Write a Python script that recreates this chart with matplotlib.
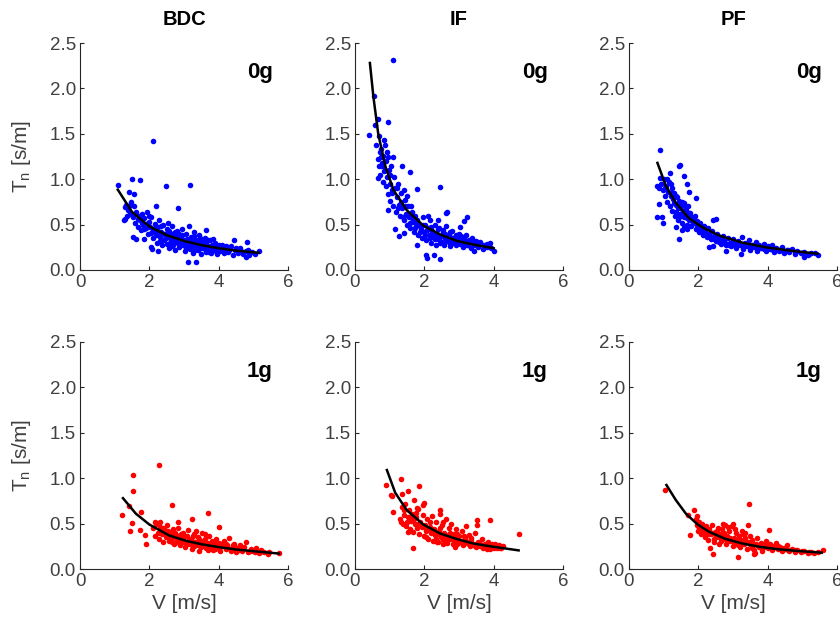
import numpy as np
import matplotlib
matplotlib.use("Agg")
import matplotlib.pyplot as plt

plt.rcParams['font.family'] = ['Liberation Sans', 'DejaVu Sans']
plt.rcParams['mathtext.fontset'] = 'custom'
plt.rcParams['mathtext.rm'] = 'Liberation Sans'
plt.rcParams['mathtext.it'] = 'Liberation Sans'

# ---- data: (V, Tn) pairs ----
bdc_0g = np.array([
    [2.12, 1.42], [1.51, 1.00], [1.74, 0.99], [1.09, 0.94], [2.49, 0.93], [3.17, 0.94],
    [1.40, 0.86], [1.57, 0.84], [2.83, 0.68], [2.20, 0.70], [1.30, 0.69], [1.30, 0.56],
    [1.28, 0.55], [1.53, 0.36], [1.61, 0.34], [1.86, 0.34], [2.06, 0.25], [2.09, 0.23],
    [2.24, 0.21], [3.12, 0.085], [3.35, 0.09], [4.81, 0.31], [4.44, 0.33], [3.64, 0.44],
    [5.15, 0.21], [4.79, 0.14],
    [1.32, 0.72], [1.38, 0.66], [1.45, 0.62], [1.48, 0.75], [1.52, 0.58], [1.55, 0.70],
    [1.60, 0.52], [1.62, 0.64], [1.66, 0.47], [1.70, 0.60], [1.72, 0.55], [1.76, 0.44],
    [1.80, 0.62], [1.83, 0.50], [1.86, 0.57], [1.90, 0.46], [1.93, 0.64], [1.96, 0.40],
    [2.00, 0.53], [2.03, 0.47], [2.06, 0.58], [2.10, 0.35], [2.12, 0.44], [2.15, 0.51],
    [2.18, 0.39], [2.22, 0.30], [2.25, 0.47], [2.28, 0.55], [2.30, 0.36], [2.34, 0.42],
    [2.37, 0.27], [2.40, 0.50], [2.43, 0.33], [2.46, 0.40], [2.50, 0.45], [2.52, 0.29],
    [2.55, 0.36], [2.58, 0.24], [2.60, 0.41], [2.63, 0.32], [2.66, 0.48], [2.68, 0.27],
    [2.72, 0.38], [2.75, 0.22], [2.78, 0.34], [2.80, 0.43], [2.84, 0.30], [2.87, 0.25],
    [2.90, 0.37], [2.93, 0.45], [2.96, 0.28], [3.00, 0.33], [3.02, 0.21], [3.05, 0.40],
    [3.08, 0.26], [3.12, 0.31], [3.15, 0.49], [3.18, 0.23], [3.20, 0.36], [3.24, 0.29],
    [3.27, 0.19], [3.30, 0.42], [3.33, 0.26], [3.36, 0.33], [3.40, 0.22], [3.43, 0.38],
    [3.46, 0.28], [3.50, 0.18], [3.52, 0.31], [3.56, 0.24], [3.60, 0.35], [3.63, 0.20],
    [3.67, 0.28], [3.70, 0.25], [3.74, 0.33], [3.78, 0.19], [3.82, 0.27], [3.86, 0.22],
    [3.90, 0.30], [3.95, 0.18], [4.00, 0.25], [4.05, 0.21], [4.10, 0.28], [4.15, 0.19],
    [4.20, 0.23], [4.28, 0.20], [4.35, 0.26], [4.40, 0.17], [4.48, 0.22], [4.55, 0.19],
    [4.62, 0.24], [4.70, 0.18], [4.78, 0.21], [4.88, 0.17], [4.95, 0.20], [5.05, 0.18],
    [2.20, 0.42], [2.45, 0.38], [2.70, 0.35], [2.90, 0.31], [3.10, 0.34], [3.35, 0.29],
    [3.55, 0.27], [2.60, 0.30], [2.85, 0.40], [3.25, 0.25],
    [1.85, 0.45], [1.95, 0.52], [2.05, 0.41], [2.15, 0.46], [2.25, 0.38], [2.35, 0.49],
    [2.42, 0.40], [2.48, 0.35], [2.56, 0.43], [2.62, 0.37], [2.70, 0.30], [2.74, 0.42],
    [2.82, 0.36], [2.88, 0.28], [2.95, 0.39], [3.00, 0.27], [3.06, 0.32], [3.14, 0.28],
    [3.22, 0.33], [3.28, 0.37], [3.32, 0.22], [3.38, 0.27], [3.45, 0.35], [3.48, 0.24],
    [3.58, 0.30], [3.62, 0.23], [3.68, 0.33], [3.72, 0.20], [3.80, 0.24], [3.88, 0.26],
    [3.92, 0.21], [4.02, 0.28], [4.12, 0.23], [4.22, 0.26], [4.30, 0.22], [4.50, 0.24],
    [4.65, 0.21], [4.85, 0.22], [1.58, 0.62], [1.68, 0.56], [1.78, 0.52], [1.40, 0.70],
    [1.35, 0.60], [2.00, 0.60], [2.30, 0.32], [2.55, 0.52], [2.65, 0.26], [3.05, 0.24],
    [3.42, 0.31], [3.85, 0.34],
])

if_0g = np.array([
    [1.11, 2.31], [0.55, 1.92], [0.41, 1.49], [0.58, 1.60], [0.67, 1.66], [0.96, 1.63],
    [0.85, 1.43], [0.87, 1.38], [0.72, 1.30], [0.96, 1.25], [1.11, 1.25], [0.70, 1.15],
    [0.74, 1.14], [1.35, 1.14], [1.59, 1.08], [0.66, 1.01], [2.44, 0.91], [1.78, 0.89],
    [0.96, 0.66], [1.16, 0.45], [1.28, 0.37], [1.42, 0.41], [1.80, 0.28], [2.05, 0.16],
    [2.09, 0.13], [2.28, 0.16], [2.44, 0.12], [3.23, 0.58], [3.13, 0.54], [2.66, 0.64],
    [2.63, 0.63], [3.03, 0.47], [3.90, 0.30], [4.02, 0.21], [3.42, 0.21],
    [0.62, 1.38], [0.66, 1.22], [0.70, 1.48], [0.73, 1.05], [0.76, 1.33], [0.78, 1.18],
    [0.80, 0.97], [0.82, 1.26], [0.85, 1.09], [0.88, 0.92], [0.90, 1.20], [0.93, 1.02],
    [0.95, 0.84], [0.98, 1.10], [1.00, 0.76], [1.02, 0.95], [1.05, 1.15], [1.08, 0.85],
    [1.10, 0.70], [1.12, 1.02], [1.15, 0.90], [1.18, 0.64], [1.20, 0.80], [1.24, 0.95],
    [1.27, 0.72], [1.30, 0.60], [1.33, 0.85], [1.36, 0.68], [1.40, 0.55], [1.43, 0.77],
    [1.46, 0.62], [1.50, 0.50], [1.53, 0.70], [1.56, 0.58], [1.60, 0.46], [1.63, 0.64],
    [1.66, 0.53], [1.70, 0.42], [1.73, 0.60], [1.76, 0.48], [1.80, 0.55], [1.83, 0.39],
    [1.86, 0.50], [1.90, 0.45], [1.93, 0.35], [1.96, 0.58], [2.00, 0.42], [2.03, 0.50],
    [2.06, 0.33], [2.10, 0.46], [2.13, 0.38], [2.16, 0.55], [2.20, 0.30], [2.23, 0.43],
    [2.26, 0.36], [2.30, 0.50], [2.33, 0.27], [2.36, 0.40], [2.40, 0.34], [2.43, 0.46],
    [2.46, 0.30], [2.50, 0.38], [2.53, 0.42], [2.56, 0.28], [2.60, 0.35], [2.63, 0.48],
    [2.66, 0.32], [2.70, 0.39], [2.73, 0.26], [2.76, 0.34], [2.80, 0.43], [2.84, 0.30],
    [2.88, 0.36], [2.92, 0.27], [2.96, 0.33], [3.00, 0.40], [3.04, 0.29], [3.08, 0.35],
    [3.12, 0.25], [3.16, 0.31], [3.20, 0.38], [3.25, 0.28], [3.30, 0.33], [3.35, 0.24],
    [3.40, 0.30], [3.45, 0.27], [3.50, 0.32], [3.56, 0.25], [3.62, 0.29], [3.68, 0.23],
    [3.74, 0.27], [3.80, 0.25], [3.86, 0.28], [3.92, 0.24],
    [1.88, 0.42], [1.95, 0.50], [2.02, 0.38], [2.08, 0.44], [2.15, 0.35], [2.20, 0.47],
    [2.28, 0.40], [2.32, 0.34], [2.38, 0.45], [2.45, 0.36], [2.50, 0.31], [2.55, 0.44],
    [2.60, 0.40], [2.65, 0.36], [2.70, 0.31], [2.75, 0.42], [2.80, 0.35], [2.86, 0.33],
    [2.90, 0.39], [2.95, 0.30], [3.00, 0.34], [3.06, 0.37], [3.10, 0.29], [3.18, 0.33],
    [3.22, 0.27], [3.28, 0.31], [3.38, 0.35], [3.48, 0.28], [3.60, 0.31], [3.70, 0.27],
    [3.82, 0.29], [1.20, 0.90], [1.25, 0.68], [1.32, 0.75], [1.38, 0.58], [1.45, 0.70],
    [1.52, 0.60], [1.58, 0.52], [1.65, 0.57], [1.72, 0.46], [1.78, 0.52], [0.82, 1.15],
    [0.92, 1.30], [1.00, 1.05], [1.06, 0.88], [0.76, 1.25], [1.40, 0.88], [1.50, 0.82],
    [1.62, 0.70], [2.12, 0.60], [2.40, 0.55],
])

pf_0g = np.array([
    [0.89, 1.32], [0.89, 1.01], [0.82, 0.92], [0.87, 0.90], [0.87, 0.73], [0.82, 0.58],
    [0.94, 0.58], [0.98, 0.52], [1.43, 0.34], [1.44, 1.14], [1.46, 1.16], [1.59, 1.04],
    [1.18, 1.07], [1.66, 0.95], [1.73, 0.86], [1.93, 0.79], [1.35, 0.47], [1.52, 0.44],
    [1.66, 0.45], [2.50, 0.56], [2.41, 0.55], [2.31, 0.25], [2.41, 0.26], [2.79, 0.21],
    [3.23, 0.18], [5.06, 0.14], [5.44, 0.16], [5.36, 0.19],
    [0.92, 0.95], [0.98, 0.88], [1.02, 1.00], [1.05, 0.82], [1.08, 0.92], [1.10, 0.75],
    [1.12, 0.86], [1.15, 0.97], [1.18, 0.70], [1.20, 0.82], [1.23, 0.90], [1.25, 0.65],
    [1.28, 0.78], [1.30, 0.85], [1.32, 0.60], [1.35, 0.72], [1.38, 0.80], [1.40, 0.55],
    [1.42, 0.68], [1.45, 0.76], [1.48, 0.62], [1.50, 0.70], [1.53, 0.52], [1.55, 0.65],
    [1.58, 0.74], [1.60, 0.58], [1.63, 0.66], [1.66, 0.50], [1.68, 0.61], [1.70, 0.70],
    [1.73, 0.55], [1.76, 0.63], [1.80, 0.48], [1.83, 0.57], [1.86, 0.52], [1.90, 0.60],
    [1.93, 0.45], [1.96, 0.54], [2.00, 0.48], [2.03, 0.42], [2.06, 0.52], [2.10, 0.45],
    [2.13, 0.38], [2.16, 0.49], [2.20, 0.42], [2.24, 0.36], [2.28, 0.46], [2.32, 0.40],
    [2.36, 0.34], [2.40, 0.43], [2.45, 0.37], [2.50, 0.32], [2.55, 0.40], [2.60, 0.35],
    [2.65, 0.29], [2.70, 0.37], [2.75, 0.32], [2.80, 0.27], [2.85, 0.35], [2.90, 0.30],
    [2.95, 0.26], [3.00, 0.34], [3.05, 0.29], [3.10, 0.24], [3.15, 0.32], [3.20, 0.27],
    [3.25, 0.36], [3.30, 0.23], [3.35, 0.30], [3.40, 0.26], [3.45, 0.33], [3.50, 0.22],
    [3.55, 0.28], [3.60, 0.25], [3.65, 0.31], [3.70, 0.21], [3.76, 0.27], [3.82, 0.24],
    [3.88, 0.29], [3.94, 0.21], [4.00, 0.26], [4.06, 0.23], [4.12, 0.27], [4.18, 0.20],
    [4.25, 0.24], [4.32, 0.21], [4.40, 0.25], [4.48, 0.19], [4.55, 0.22], [4.62, 0.20],
    [4.70, 0.23], [4.78, 0.18], [4.86, 0.21], [4.95, 0.19], [5.05, 0.20], [5.15, 0.17],
    [5.25, 0.19],
    [1.25, 0.85], [1.30, 0.74], [1.36, 0.82], [1.42, 0.73], [1.47, 0.68], [1.52, 0.75],
    [1.57, 0.62], [1.62, 0.70], [1.67, 0.57], [1.72, 0.63], [1.78, 0.58], [1.84, 0.52],
    [1.88, 0.56], [1.95, 0.50], [2.02, 0.46], [2.08, 0.42], [2.14, 0.44], [2.22, 0.39],
    [2.30, 0.37], [2.38, 0.36], [2.46, 0.34], [2.52, 0.37], [2.60, 0.31], [2.68, 0.33],
    [2.78, 0.30], [2.88, 0.28], [2.98, 0.29], [3.08, 0.27], [3.18, 0.30], [3.28, 0.26],
    [3.38, 0.28], [3.48, 0.25], [3.58, 0.27], [3.68, 0.24], [3.78, 0.25], [3.90, 0.23],
    [4.02, 0.24], [4.15, 0.22], [4.28, 0.23], [4.45, 0.21], [4.60, 0.22], [4.80, 0.20],
    [5.00, 0.19], [5.20, 0.18], [1.10, 1.00], [1.20, 0.95], [1.05, 0.90], [1.35, 0.64],
    [1.45, 0.58], [1.60, 0.48],
])

bdc_1g = np.array([
    [2.27, 1.14], [1.53, 1.04], [1.53, 0.86], [1.22, 0.59], [1.40, 0.69], [1.76, 0.63],
    [1.51, 0.51], [1.43, 0.42], [1.73, 0.43], [1.88, 0.37], [1.90, 0.28], [2.64, 0.70],
    [3.68, 0.62], [4.02, 0.46], [3.23, 0.55], [2.82, 0.52], [2.17, 0.52], [2.30, 0.52],
    [5.42, 0.16], [5.74, 0.18], [5.45, 0.19],
    [2.12, 0.45], [2.15, 0.36], [2.20, 0.50], [2.24, 0.40], [2.28, 0.33], [2.32, 0.46],
    [2.36, 0.38], [2.40, 0.30], [2.44, 0.43], [2.48, 0.35], [2.52, 0.48], [2.56, 0.31],
    [2.60, 0.40], [2.64, 0.34], [2.68, 0.44], [2.72, 0.28], [2.76, 0.37], [2.80, 0.32],
    [2.84, 0.45], [2.88, 0.26], [2.92, 0.35], [2.96, 0.40], [3.00, 0.30], [3.04, 0.24],
    [3.08, 0.36], [3.12, 0.43], [3.16, 0.28], [3.20, 0.33], [3.24, 0.22], [3.28, 0.38],
    [3.32, 0.30], [3.36, 0.26], [3.40, 0.35], [3.44, 0.20], [3.48, 0.31], [3.52, 0.40],
    [3.56, 0.27], [3.60, 0.33], [3.64, 0.23], [3.68, 0.29], [3.72, 0.36], [3.76, 0.25],
    [3.80, 0.31], [3.84, 0.21], [3.88, 0.28], [3.92, 0.33], [3.96, 0.24], [4.00, 0.29],
    [4.05, 0.20], [4.10, 0.27], [4.15, 0.31], [4.20, 0.22], [4.25, 0.26], [4.30, 0.34],
    [4.35, 0.20], [4.40, 0.24], [4.45, 0.28], [4.50, 0.19], [4.56, 0.23], [4.62, 0.26],
    [4.68, 0.20], [4.74, 0.24], [4.80, 0.30], [4.86, 0.19], [4.92, 0.22], [5.00, 0.20],
    [5.08, 0.23], [5.15, 0.18], [5.22, 0.21], [5.30, 0.19],
    [3.10, 0.27], [3.30, 0.25], [3.50, 0.24], [3.70, 0.21], [3.90, 0.22], [3.35, 0.42],
    [3.60, 0.38], [2.90, 0.38], [3.45, 0.28], [3.75, 0.28],
    [2.50, 0.38], [2.60, 0.34], [2.70, 0.36], [2.80, 0.30], [2.90, 0.33], [3.00, 0.35],
    [3.05, 0.28], [3.15, 0.32], [3.20, 0.27], [3.30, 0.30], [3.38, 0.28], [3.42, 0.33],
    [3.55, 0.30], [3.62, 0.26], [3.68, 0.25], [3.78, 0.27], [3.82, 0.24], [3.95, 0.26],
    [4.02, 0.22], [4.08, 0.25], [4.18, 0.24], [4.28, 0.23], [4.38, 0.22], [4.48, 0.24],
    [4.60, 0.21], [4.70, 0.22], [4.90, 0.20], [5.05, 0.19], [5.20, 0.19], [2.30, 0.42],
    [2.40, 0.45], [2.55, 0.42], [2.65, 0.30], [2.75, 0.40], [2.95, 0.30], [3.25, 0.36],
    [3.45, 0.25], [3.85, 0.30], [4.20, 0.28], [4.40, 0.26],
])

if_1g = np.array([
    [0.90, 0.92], [1.04, 0.82], [1.06, 0.80], [1.34, 0.99], [1.84, 0.91], [1.52, 0.86],
    [1.35, 0.83], [1.11, 0.63], [1.32, 0.52], [1.54, 0.41], [1.67, 0.23], [1.99, 0.73],
    [1.97, 0.71], [1.69, 0.76], [1.80, 0.67], [2.46, 0.65], [3.51, 0.54], [3.90, 0.54],
    [4.74, 0.385], [3.52, 0.49], [2.36, 0.30], [2.55, 0.27], [2.89, 0.24], [3.81, 0.22],
    [4.17, 0.23],
    [1.30, 0.55], [1.35, 0.68], [1.38, 0.50], [1.42, 0.60], [1.45, 0.72], [1.48, 0.47],
    [1.52, 0.57], [1.55, 0.65], [1.58, 0.44], [1.62, 0.53], [1.65, 0.61], [1.68, 0.41],
    [1.72, 0.50], [1.75, 0.57], [1.78, 0.45], [1.82, 0.66], [1.85, 0.38], [1.88, 0.52],
    [1.92, 0.46], [1.95, 0.60], [1.98, 0.36], [2.02, 0.49], [2.05, 0.42], [2.08, 0.55],
    [2.12, 0.33], [2.15, 0.46], [2.18, 0.40], [2.22, 0.58], [2.25, 0.31], [2.28, 0.44],
    [2.32, 0.37], [2.35, 0.52], [2.38, 0.30], [2.42, 0.42], [2.45, 0.61], [2.48, 0.35],
    [2.52, 0.48], [2.55, 0.32], [2.58, 0.40], [2.62, 0.55], [2.65, 0.29], [2.68, 0.37],
    [2.72, 0.45], [2.75, 0.33], [2.78, 0.50], [2.82, 0.28], [2.85, 0.39], [2.88, 0.34],
    [2.92, 0.44], [2.95, 0.27], [3.00, 0.36], [3.04, 0.31], [3.08, 0.42], [3.12, 0.26],
    [3.16, 0.34], [3.20, 0.47], [3.24, 0.29], [3.28, 0.37], [3.32, 0.25], [3.36, 0.32],
    [3.40, 0.28], [3.45, 0.40], [3.50, 0.24], [3.55, 0.30], [3.60, 0.27], [3.65, 0.33],
    [3.70, 0.23], [3.75, 0.28], [3.80, 0.25], [3.85, 0.30], [3.90, 0.22], [3.95, 0.27],
    [4.00, 0.24], [4.05, 0.28], [4.10, 0.23], [4.15, 0.26], [4.22, 0.24], [4.28, 0.25],
    [1.60, 0.57], [1.70, 0.55], [1.80, 0.50], [1.90, 0.49], [2.00, 0.46], [2.10, 0.44],
    [2.20, 0.43], [2.30, 0.41], [2.40, 0.38], [2.50, 0.37], [2.60, 0.36], [2.70, 0.34],
    [2.80, 0.33], [2.90, 0.31], [3.00, 0.30], [3.10, 0.29], [3.20, 0.31], [3.30, 0.28],
    [3.40, 0.26], [3.50, 0.27], [3.60, 0.25], [3.70, 0.26], [3.80, 0.24], [3.90, 0.25],
    [4.00, 0.23], [4.10, 0.25], [4.20, 0.23], [2.15, 0.52], [2.45, 0.45], [2.55, 0.52],
    [2.75, 0.40], [2.95, 0.38], [3.15, 0.36], [3.35, 0.34], [2.05, 0.35], [2.35, 0.33],
    [2.65, 0.31], [1.75, 0.62], [1.50, 0.52], [1.40, 0.65],
])

pf_1g = np.array([
    [1.04, 0.87], [1.76, 0.37], [1.70, 0.59], [1.88, 0.65], [1.95, 0.58], [3.45, 0.72],
    [3.43, 0.48], [4.05, 0.43], [2.33, 0.23], [2.43, 0.17], [3.13, 0.13], [3.60, 0.16],
    [3.64, 0.18], [5.59, 0.21], [2.99, 0.50], [2.70, 0.50],
    [1.92, 0.55], [1.95, 0.48], [1.98, 0.42], [2.02, 0.52], [2.05, 0.45], [2.08, 0.38],
    [2.12, 0.50], [2.15, 0.43], [2.18, 0.35], [2.22, 0.47], [2.25, 0.40], [2.28, 0.32],
    [2.32, 0.44], [2.36, 0.38], [2.40, 0.48], [2.44, 0.30], [2.48, 0.41], [2.52, 0.35],
    [2.56, 0.45], [2.60, 0.28], [2.64, 0.38], [2.68, 0.44], [2.72, 0.33], [2.76, 0.48],
    [2.80, 0.27], [2.84, 0.36], [2.88, 0.42], [2.92, 0.31], [2.96, 0.47], [3.00, 0.25],
    [3.04, 0.34], [3.08, 0.40], [3.12, 0.29], [3.16, 0.36], [3.20, 0.24], [3.24, 0.32],
    [3.28, 0.38], [3.32, 0.27], [3.36, 0.34], [3.40, 0.22], [3.44, 0.30], [3.48, 0.36],
    [3.52, 0.26], [3.56, 0.32], [3.60, 0.21], [3.65, 0.28], [3.70, 0.34], [3.75, 0.24],
    [3.80, 0.29], [3.85, 0.20], [3.90, 0.26], [3.95, 0.31], [4.00, 0.23], [4.06, 0.27],
    [4.12, 0.21], [4.18, 0.25], [4.24, 0.29], [4.30, 0.22], [4.36, 0.24], [4.42, 0.20],
    [4.48, 0.23], [4.55, 0.26], [4.62, 0.20], [4.70, 0.22], [4.78, 0.19], [4.86, 0.21],
    [4.95, 0.19], [5.05, 0.20], [5.15, 0.18], [5.25, 0.19], [5.35, 0.18], [5.45, 0.19],
    [2.00, 0.47], [2.10, 0.42], [2.20, 0.40], [2.30, 0.38], [2.40, 0.40], [2.50, 0.37],
    [2.60, 0.35], [2.70, 0.36], [2.80, 0.33], [2.90, 0.34], [3.00, 0.31], [3.10, 0.32],
    [3.20, 0.30], [3.30, 0.29], [3.40, 0.30], [3.50, 0.27], [3.60, 0.28], [3.70, 0.26],
    [3.80, 0.25], [3.90, 0.24], [4.00, 0.27], [4.10, 0.23], [4.20, 0.24], [4.30, 0.25],
    [4.40, 0.22], [4.50, 0.22], [4.60, 0.21], [4.80, 0.21], [5.00, 0.20], [5.20, 0.19],
    [2.55, 0.42], [2.75, 0.40], [2.85, 0.46], [3.05, 0.44], [3.25, 0.42], [2.45, 0.33],
    [2.65, 0.31], [3.35, 0.40], [3.15, 0.26], [3.55, 0.23],
])

# fitted curves, points
bdc_0g_fit_v = [1.09, 1.5, 2.0, 2.5, 3.0, 3.5, 4.0, 4.5, 5.15]
bdc_0g_fit_t = [0.885, 0.64, 0.48, 0.384, 0.32, 0.274, 0.24, 0.213, 0.19]
if_0g_fit_v = [0.43, 0.53, 0.67, 0.87, 1.11, 1.49, 1.97, 2.46, 2.94, 3.42, 4.0]
if_0g_fit_t = [2.28, 1.91, 1.50, 1.15, 0.88, 0.66, 0.49, 0.39, 0.32, 0.28, 0.24]
pf_0g_fit_v = [0.82, 1.06, 1.35, 1.73, 2.12, 2.60, 3.28, 3.95, 4.72, 5.44]
pf_0g_fit_t = [1.18, 0.93, 0.74, 0.57, 0.47, 0.38, 0.30, 0.25, 0.21, 0.18]
bdc_1g_fit_v = [1.24, 1.61, 2.0, 2.57, 3.06, 3.54, 4.02, 4.5, 5.18, 5.74]
bdc_1g_fit_t = [0.78, 0.61, 0.49, 0.37, 0.31, 0.27, 0.24, 0.215, 0.19, 0.17]
if_1g_fit_v = [0.92, 1.16, 1.49, 1.97, 2.46, 2.94, 3.42, 3.90, 4.72]
if_1g_fit_t = [1.09, 0.84, 0.65, 0.49, 0.39, 0.33, 0.28, 0.25, 0.205]
pf_1g_fit_v = [1.08, 1.35, 1.64, 1.98, 2.31, 2.79, 3.28, 3.76, 4.24, 4.82, 5.56]
pf_1g_fit_t = [0.925, 0.76, 0.61, 0.49, 0.41, 0.33, 0.28, 0.245, 0.22, 0.20, 0.18]

titles = ['BDC', 'IF', 'PF']
labels = ['0g', '1g']
x_ticks = [0, 2, 4, 6]
y_ticks = [0.0, 0.5, 1.0, 1.5, 2.0, 2.5]

panels = [
    [(bdc_0g, bdc_0g_fit_v, bdc_0g_fit_t), (if_0g, if_0g_fit_v, if_0g_fit_t), (pf_0g, pf_0g_fit_v, pf_0g_fit_t)],
    [(bdc_1g, bdc_1g_fit_v, bdc_1g_fit_t), (if_1g, if_1g_fit_v, if_1g_fit_t), (pf_1g, pf_1g_fit_v, pf_1g_fit_t)],
]
colors = ['#0000ff', '#ff0000']

W, H = 840, 630
lefts = [80, 355, 629]
bottoms = [270, 569]
aw, ah = 208, 227
grey = '#262626'
tick_grey = '#404040'

fig = plt.figure(figsize=(8.4, 6.3), dpi=100)
for r in range(2):
    for c in range(3):
        pts, fv, ft = panels[r][c]
        ax = fig.add_axes([lefts[c] / W, 1 - bottoms[r] / H, aw / W, ah / H])
        ax.scatter(pts[:, 0], pts[:, 1], s=16, color=colors[r], linewidths=0, zorder=2)
        ax.plot(fv, ft, color='black', lw=1.8, zorder=3)
        ax.set_xlim(0, 6)
        ax.set_ylim(0, 2.5)
        ax.set_xticks(x_ticks)
        ax.set_yticks(y_ticks)
        ax.set_yticklabels(['%.1f' % v for v in y_ticks])
        for s in ['top', 'right']:
            ax.spines[s].set_visible(False)
        for s in ['left', 'bottom']:
            ax.spines[s].set_color(grey)
            ax.spines[s].set_linewidth(0.8)
        ax.tick_params(direction='in', length=3, width=0.8, color=grey,
                       labelcolor=tick_grey, labelsize=13.5, pad=3)
        ax.text(0.865, 0.872, labels[r], transform=ax.transAxes, ha='center', va='center',
                fontsize=16, fontweight='bold', color='black')
        if r == 0:
            ax.set_title(titles[c], fontsize=14.5, fontweight='bold', pad=13)
        if c == 0:
            ax.set_ylabel('T$_\\mathregular{n}$ [s/m]', fontsize=15, color=tick_grey)
            ax.yaxis.set_label_coords(-0.225, 0.5)
        if r == 1:
            ax.set_xlabel('V [m/s]', fontsize=15, color=tick_grey, labelpad=3)

fig.savefig('out.png', dpi=100)
